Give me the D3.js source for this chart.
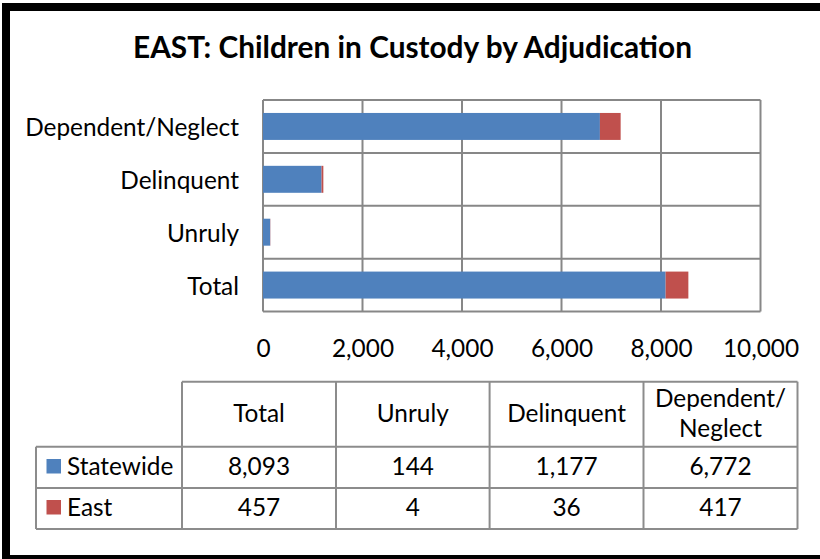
<!DOCTYPE html>
<html>
<head>
<meta charset="utf-8">
<script src="https://cdn.jsdelivr.net/npm/d3@7/dist/d3.min.js"></script>
<style>
  html, body { margin: 0; padding: 0; background: #fff; }
  svg { display: block; }
  text { font-family: Lato, "Open Sans", "Liberation Sans", sans-serif; fill: #000; }
</style>
</head>
<body>
<svg id="chart" width="820" height="559"></svg>
<script>
// Children in custody by adjudication: statewide count with the East share stacked on top
const categories = ["Total", "Unruly", "Delinquent", "Dependent/Neglect"];
const statewide = [8093, 144, 1177, 6772];
const east = [457, 4, 36, 417];
const seriesNames = ["Statewide", "East"];
const seriesColors = ["#4F81BD", "#C0504D"];
const xTicks = [0, 2000, 4000, 6000, 8000, 10000];
const headerLines = [["Total"], ["Unruly"], ["Delinquent"], ["Dependent/", "Neglect"]];
const titleText = "EAST: Children in Custody by Adjudication";

const svg = d3.select("#chart");
const fmt = d3.format(",");
const gridColor = "#878787";

// fit the label font to the width of the longest category label
const probe = svg.append("text").attr("font-size", 20).text("Dependent/Neglect");
const labelSize = 20 * 214 / probe.node().getComputedTextLength();
probe.remove();
const tprobe = svg.append("text").attr("font-size", 20).attr("font-weight", "bold").text(titleText);
const titleSize = 20 * 559 / tprobe.node().getComputedTextLength();
tprobe.remove();

// outer frame
svg.append("rect")
  .attr("x", 6).attr("y", 7).attr("width", 840).attr("height", 552)
  .attr("fill", "#fff").attr("stroke", "#000").attr("stroke-width", 8);

// title
svg.append("text")
  .attr("x", 412.5).attr("y", 57.5)
  .attr("text-anchor", "middle")
  .attr("font-weight", "bold")
  .attr("font-size", titleSize)
  .text(titleText);

// plot area
const plot = { left: 263, right: 760.5, top: 100, bottom: 311.5 };
const x = d3.scaleLinear().domain([0, 10000]).range([plot.left, plot.right]);
const y = d3.scaleBand().domain(categories).range([plot.bottom, plot.top])
  .paddingInner(0.49).paddingOuter(0.245);

const rows = categories.map((c, i) => ({ category: c, Statewide: statewide[i], East: east[i] }));
const stacked = d3.stack().keys(seriesNames)(rows);

// vertical value gridlines
svg.append("g").selectAll("line").data(xTicks).join("line")
  .attr("x1", d => x(d)).attr("x2", d => x(d))
  .attr("y1", plot.top).attr("y2", plot.bottom)
  .attr("stroke", gridColor).attr("stroke-width", 2);

// horizontal category separators
const step = y.step();
const sepY = d3.range(categories.length + 1).map(i => plot.top + i * step);
svg.append("g").selectAll("line").data(sepY).join("line")
  .attr("x1", plot.left).attr("x2", plot.right)
  .attr("y1", d => d).attr("y2", d => d)
  .attr("stroke", gridColor).attr("stroke-width", 2);

// stacked bars
svg.append("g").selectAll("g").data(stacked).join("g")
  .attr("fill", (d, i) => seriesColors[i])
  .selectAll("rect").data(d => d).join("rect")
  .attr("x", d => x(d[0]))
  .attr("width", d => x(d[1]) - x(d[0]))
  .attr("y", d => y(d.data.category))
  .attr("height", y.bandwidth());

// value axis labels
const xAxis = d3.axisBottom(x).tickValues(xTicks).tickFormat(fmt).tickSize(0).tickPadding(0);
const xg = svg.append("g").attr("transform", `translate(0,${plot.bottom})`).call(xAxis);
xg.attr("font-family", null).attr("font-size", null);
xg.select(".domain").remove();
xg.selectAll("text")
  .attr("font-size", labelSize)
  .attr("fill", "#000")
  .attr("dy", null)
  .attr("y", 357 - plot.bottom);

// category axis labels
const yAxis = d3.axisLeft(y).tickSize(0).tickPadding(0);
const yg = svg.append("g").attr("transform", "translate(239,0)").call(yAxis);
yg.attr("font-family", null).attr("font-size", null);
yg.select(".domain").remove();
yg.selectAll("text")
  .attr("font-size", labelSize)
  .attr("fill", "#000")
  .attr("dy", null)
  .attr("y", 10);

// data table
const colX = [182, 336, 489.6, 643.5, 797.5];
const rowY = [381.7, 446.7, 488, 529];
const legendLeft = 36;
const tableColor = "#8c8c8c";
const table = svg.append("g");

table.selectAll("line.v").data(colX).join("line")
  .attr("x1", d => d).attr("x2", d => d)
  .attr("y1", rowY[0]).attr("y2", rowY[3])
  .attr("stroke", tableColor).attr("stroke-width", 2);
table.append("line")
  .attr("x1", colX[0]).attr("x2", colX[4]).attr("y1", rowY[0]).attr("y2", rowY[0])
  .attr("stroke", tableColor).attr("stroke-width", 2);
table.selectAll("line.h").data(rowY.slice(1)).join("line")
  .attr("x1", legendLeft).attr("x2", colX[4])
  .attr("y1", d => d).attr("y2", d => d)
  .attr("stroke", tableColor).attr("stroke-width", 2);
table.append("line")
  .attr("x1", legendLeft).attr("x2", legendLeft).attr("y1", rowY[1]).attr("y2", rowY[3])
  .attr("stroke", tableColor).attr("stroke-width", 2);

// column headers
headerLines.forEach((lines, i) => {
  const cx = (colX[i] + colX[i + 1]) / 2;
  const t = table.append("text")
    .attr("text-anchor", "middle")
    .attr("font-size", labelSize);
  if (lines.length === 1) {
    t.attr("x", cx).attr("y", 422.3).text(lines[0]);
  } else {
    lines.forEach((ln, j) => {
      t.append("tspan").attr("x", cx).attr("y", 406.7 + j * 30.5).text(ln);
    });
  }
});

// value rows with legend keys
const seriesValues = [statewide, east];
const rowBaselines = [475, 516];
seriesValues.forEach((vals, r) => {
  vals.forEach((v, i) => {
    table.append("text")
      .attr("x", (colX[i] + colX[i + 1]) / 2)
      .attr("y", rowBaselines[r])
      .attr("text-anchor", "middle")
      .attr("font-size", labelSize)
      .text(fmt(v));
  });
  table.append("rect")
    .attr("x", 46.5).attr("y", rowBaselines[r] - 16)
    .attr("width", 14.5).attr("height", 14.5)
    .attr("fill", seriesColors[r]);
  table.append("text")
    .attr("x", 67).attr("y", rowBaselines[r])
    .attr("font-size", labelSize)
    .text(seriesNames[r]);
});
</script>
</body>
</html>
